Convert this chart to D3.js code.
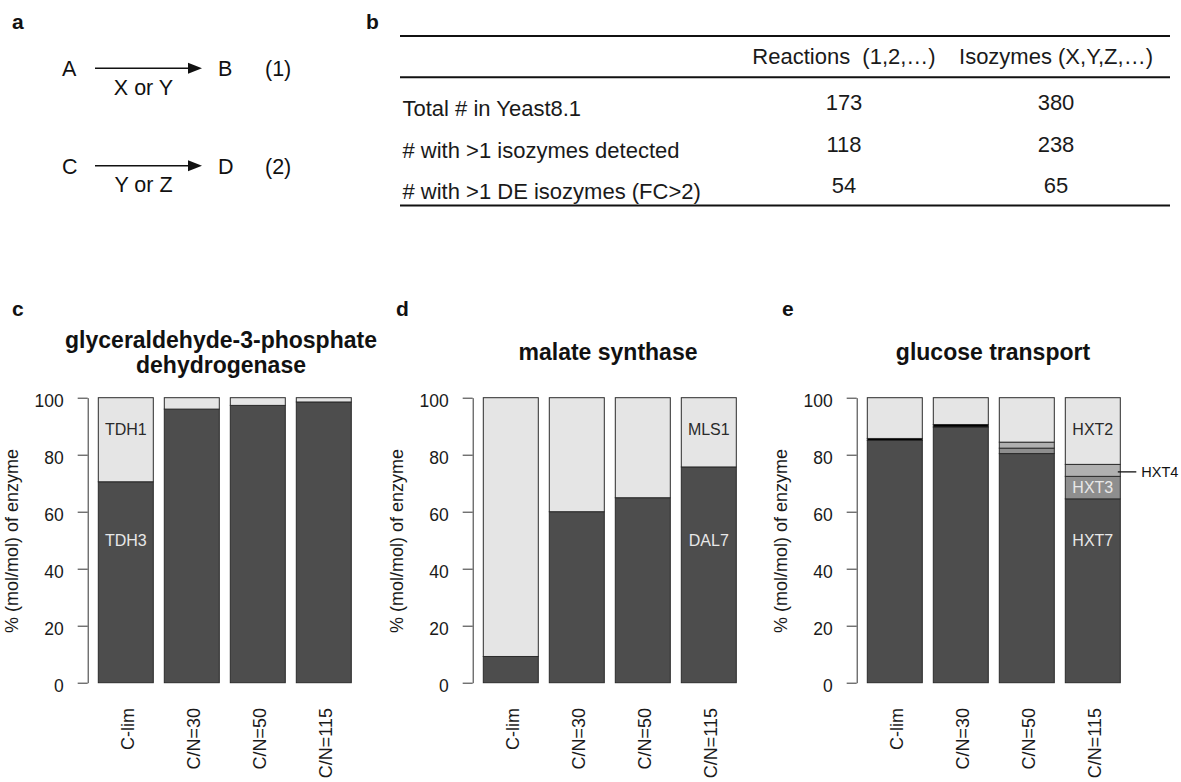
<!DOCTYPE html>
<html>
<head>
<meta charset="utf-8">
<script src="https://cdn.jsdelivr.net/npm/d3@7"></script>
<style>
  body { margin: 0; background: #fff; }
  svg { display: block; font-family: "Liberation Sans", Arial, sans-serif; }
</style>
</head>
<body>
<div id="chart"></div>
<script>
// ---- data ----
const conditions = ["C-lim", "C/N=30", "C/N=50", "C/N=115"];
const yTicks = [0, 20, 40, 60, 80, 100];

// c: glyceraldehyde-3-phosphate dehydrogenase (% of enzyme)
const tdh3 = [70.5, 96.0, 97.3, 98.5];
const tdh1 = [29.5, 4.0, 2.7, 1.5];

// d: malate synthase
const dal7 = [9.2, 60.0, 64.9, 75.7];
const mls1 = [90.8, 40.0, 35.1, 24.3];

// e: glucose transport
const hxt7 = [85.0, 89.7, 80.4, 64.5];
const hxtMinor = [0.7, 0.9, 0, 0];   // thin black band, not labelled
const hxt3 = [0, 0, 1.9, 7.9];
const hxt4 = [0, 0, 2.1, 4.2];
const hxt2 = [14.3, 9.4, 15.6, 23.4];

// a: reaction scheme
const substrates = ["A", "C"];
const products = ["B", "D"];
const enzymeText = ["X or Y", "Y or Z"];
const reactionIds = ["(1)", "(2)"];

// b: table
const tableHeader = ["Reactions  (1,2,…)", "Isozymes (X,Y,Z,…)"];
const rowLabels = ["Total # in Yeast8.1", "# with >1 isozymes detected", "# with >1 DE isozymes (FC>2)"];
const reactionCounts = [173, 118, 54];
const isozymeCounts = [380, 238, 65];

// ---- drawing ----
const DARK = "#4d4d4d", LIGHT = "#e5e5e5";
const svg = d3.select("#chart").append("svg")
    .attr("width", 1181)
    .attr("height", 782);

const y = d3.scaleLinear().domain([0, 100]).range([682.7, 397.7]);

function panelLetter(letter, x, yy) {
    svg.append("text")
        .attr("x", x).attr("y", yy)
        .attr("font-size", 21)
        .attr("font-weight", "bold")
        .attr("fill", "#111")
        .text(letter);
}

function drawPanel(opt) {
    let g = svg.append("g");
    let x0 = opt.left + 10.6;
    let x = d3.scaleBand()
        .domain(conditions)
        .range([x0, x0 + 253])
        .paddingInner(1 / 6)
        .paddingOuter(0);

    let rows = conditions.map(function(c, i) {
        let r = {cond: c};
        opt.series.forEach(function(s) { r[s.key] = s.values[i]; });
        return r;
    });
    let stacked = d3.stack().keys(opt.series.map(s => s.key))(rows);
    let colour = {};
    opt.series.forEach(function(s) { colour[s.key] = s.fill; });

    g.selectAll("g.layer")
        .data(stacked)
        .enter()
        .append("g")
        .attr("class", "layer")
        .attr("fill", d => colour[d.key])
        .selectAll("rect")
        .data(d => d.filter(p => p[1] - p[0] > 0))
        .enter()
        .append("rect")
        .attr("x", d => x(d.data.cond))
        .attr("y", d => y(d[1]))
        .attr("width", x.bandwidth())
        .attr("height", d => y(d[0]) - y(d[1]))
        .attr("stroke", "#2b2b2b")
        .attr("stroke-width", 1);

    // y axis
    let ax = g.append("g")
        .attr("transform", `translate(${opt.left},0)`)
        .call(d3.axisLeft(y).tickValues(yTicks).tickSize(10).tickSizeOuter(0).tickPadding(14));
    ax.attr("font-size", null).attr("font-family", null);
    ax.select(".domain").attr("stroke", "#333");
    ax.selectAll(".tick line").attr("stroke", "#333");
    ax.selectAll(".tick text")
        .attr("font-size", 17.5)
        .attr("fill", "#1a1a1a")
        .attr("dy", "0.5em");

    g.append("text")
        .attr("transform", `translate(${opt.left - 70},541) rotate(-90)`)
        .attr("text-anchor", "middle")
        .attr("font-size", 18)
        .attr("fill", "#1a1a1a")
        .text("% (mol/mol) of enzyme");

    // x labels
    g.selectAll("text.xlab")
        .data(conditions)
        .enter()
        .append("text")
        .attr("class", "xlab")
        .attr("transform", d => `translate(${x(d) + x.bandwidth() / 2},708) rotate(-90)`)
        .attr("text-anchor", "end")
        .attr("dy", "0.48em")
        .attr("font-size", 18)
        .attr("fill", "#1a1a1a")
        .text(d => d);

    // title
    g.selectAll("text.title")
        .data(opt.title)
        .enter()
        .append("text")
        .attr("class", "title")
        .attr("x", opt.titleX)
        .attr("y", (d, i) => 360 - (opt.title.length - 1) * 12.5 + i * 25)
        .attr("text-anchor", "middle")
        .attr("font-size", 23)
        .attr("font-weight", "bold")
        .attr("fill", "#111")
        .text(d => d);

    // isozyme names inside one bar
    let bc = x(opt.labelBar) + x.bandwidth() / 2;
    opt.labels.forEach(function(l) {
        g.append("text")
            .attr("x", bc)
            .attr("y", y(l.at))
            .attr("dy", "0.36em")
            .attr("text-anchor", "middle")
            .attr("font-size", 16)
            .attr("fill", l.light ? "#e8e8e8" : "#2a2a2a")
            .text(l.name);
    });

    return x;
}

drawPanel({
    left: 87.7, titleX: 221,
    title: ["glyceraldehyde-3-phosphate", "dehydrogenase"],
    series: [
        {key: "TDH3", values: tdh3, fill: DARK},
        {key: "TDH1", values: tdh1, fill: LIGHT}
    ],
    labelBar: "C-lim",
    labels: [{name: "TDH1", at: 89}, {name: "TDH3", at: 50, light: true}]
});
panelLetter("c", 12, 315.5);

drawPanel({
    left: 472.7, titleX: 608,
    title: ["malate synthase"],
    series: [
        {key: "DAL7", values: dal7, fill: DARK},
        {key: "MLS1", values: mls1, fill: LIGHT}
    ],
    labelBar: "C/N=115",
    labels: [{name: "MLS1", at: 89}, {name: "DAL7", at: 50, light: true}]
});
panelLetter("d", 396, 315.5);

let xe = drawPanel({
    left: 856.7, titleX: 993,
    title: ["glucose transport"],
    series: [
        {key: "HXT7", values: hxt7, fill: DARK},
        {key: "minor", values: hxtMinor, fill: "#000"},
        {key: "HXT3", values: hxt3, fill: "#8e8e8e"},
        {key: "HXT4", values: hxt4, fill: "#b0b0b0"},
        {key: "HXT2", values: hxt2, fill: LIGHT}
    ],
    labelBar: "C/N=115",
    labels: [
        {name: "HXT2", at: 89},
        {name: "HXT3", at: hxt7[3] + hxt3[3] / 2, light: true},
        {name: "HXT7", at: 50, light: true}
    ]
});
panelLetter("e", 782, 315.5);

// HXT4 call-out
let hx = xe("C/N=115") + xe.bandwidth();
let hy = y(hxt7[3] + hxt3[3] + hxt4[3] / 2) + 1.5;
svg.append("line")
    .attr("x1", hx - 2.5).attr("x2", hx + 16)
    .attr("y1", hy).attr("y2", hy)
    .attr("stroke", "#111").attr("stroke-width", 1.3);
svg.append("text")
    .attr("x", hx + 21).attr("y", hy)
    .attr("dy", "0.36em")
    .attr("font-size", 14.5)
    .attr("fill", "#111")
    .text("HXT4");

// ---- panel a: reaction scheme ----
panelLetter("a", 12, 29);
let a = svg.append("g").attr("fill", "#111").attr("font-size", 21.5);
substrates.forEach(function(s, i) {
    let ay = 68.3 + i * 97.4;
    a.append("text").attr("x", 62).attr("y", ay + 8).text(s);
    a.append("line")
        .attr("x1", 95).attr("x2", 190)
        .attr("y1", ay).attr("y2", ay)
        .attr("stroke", "#111").attr("stroke-width", 1.5);
    a.append("path")
        .attr("d", `M188,${ay - 5.5}L202,${ay}L188,${ay + 5.5}Z`);
    a.append("text").attr("x", 218).attr("y", ay + 8).text(products[i]);
    a.append("text").attr("x", 265).attr("y", ay + 8).text(reactionIds[i]);
    a.append("text").attr("x", 143.5).attr("y", ay + 26.5)
        .attr("text-anchor", "middle").text(enzymeText[i]);
});

// ---- panel b: table ----
panelLetter("b", 366, 29);
let t = svg.append("g").attr("fill", "#1a1a1a").attr("font-size", 22);
[36, 77.3, 205.5].forEach(function(ly) {
    t.append("line")
        .attr("x1", 400).attr("x2", 1170)
        .attr("y1", ly).attr("y2", ly)
        .attr("stroke", "#111").attr("stroke-width", 2);
});
let colX = [844, 1056];
t.selectAll("text.head")
    .data(tableHeader)
    .enter()
    .append("text")
    .attr("class", "head")
    .attr("x", (d, i) => colX[i])
    .attr("y", 64.3)
    .attr("text-anchor", "middle")
    .style("white-space", "pre")
    .text(d => d);
rowLabels.forEach(function(r, i) {
    let ry = 115.7 + i * 41.8;
    t.append("text").attr("x", 402.5).attr("y", ry).text(r);
    t.append("text").attr("x", colX[0]).attr("y", ry - 6)
        .attr("text-anchor", "middle").text(reactionCounts[i]);
    t.append("text").attr("x", colX[1]).attr("y", ry - 6)
        .attr("text-anchor", "middle").text(isozymeCounts[i]);
});
</script>
</body>
</html>
